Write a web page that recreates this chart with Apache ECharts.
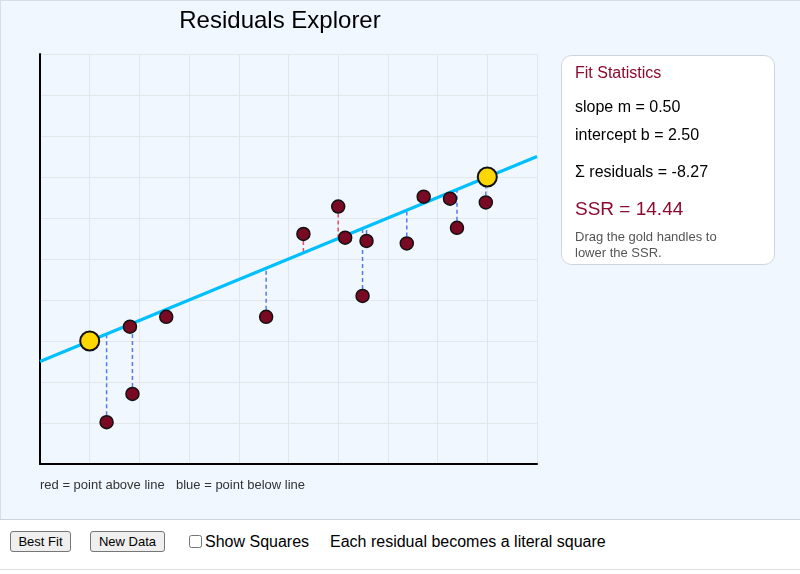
<!DOCTYPE html>
<html>
<head>
<meta charset="utf-8">
<script src="https://cdn.jsdelivr.net/npm/echarts@6/dist/echarts.min.js"></script>
<style>
  body { margin: 0; background: #fff; font-family: "Liberation Sans", Arial, sans-serif; }
  #wrap { position: absolute; left: 0; top: 0; width: 800px; height: 519px; background: #f0f7ff;
          box-shadow: inset 1px 1px 0 #d9dee4; }
  #chart { position: absolute; left: 0; top: 0; width: 800px; height: 519px; }
  #bar { position: absolute; left: 0; top: 519px; width: 800px; height: 51px; background: #fff;
         border-top: 1px solid #cfd3d8; border-bottom: 1px solid #dde0e4; box-sizing: border-box; }
  .btn { position: absolute; top: 11px; height: 21px; padding: 0; font: 13px "Liberation Sans", Arial, sans-serif;
         background: #efefef; border: 1px solid #767676; border-radius: 3px; color: #000; }
  .lbl { position: absolute; top: 13px; font: 16px "Liberation Sans", Arial, sans-serif; color: #000; white-space: nowrap; }
  #chk { position: absolute; left: 189px; top: 15px; margin: 0; width: 13px; height: 13px; }
</style>
</head>
<body>
<div id="wrap"><div id="chart"></div></div>
<div id="bar">
  <button class="btn" style="left:10px;width:61px">Best Fit</button>
  <button class="btn" style="left:90px;width:75px">New Data</button>
  <input type="checkbox" id="chk">
  <span class="lbl" style="left:205px">Show Squares</span>
  <span class="lbl" style="left:330px">Each residual becomes a literal square</span>
</div>
<script>
// current line y = m*x + b
var slope = 0.5;
var intercept = 2.5;
var handleX = [1, 9];

// data points
var pointsX = [1.34, 1.86, 1.81, 2.54, 4.55, 5.30, 6.00, 6.14, 6.57, 6.49, 7.38, 7.72, 8.25, 8.39, 8.97];
var pointsY = [1.02, 1.71, 3.35, 3.59, 3.59, 5.61, 6.28, 5.52, 5.44, 4.10, 5.38, 6.52, 6.47, 5.76, 6.38];

// numbers shown in the panel
var sumResiduals = '-8.27';
var ssr = '14.44';

var points = pointsX.map(function(x, i) { return [x, pointsY[i]]; });
var handles = handleX.map(function(x) { return [x, slope * x + intercept]; });
var lineData = [[0, intercept], [10, slope * 10 + intercept]];

var chart = echarts.init(document.getElementById('chart'));
var font = '"Liberation Sans", Arial, sans-serif';

function label(x, y, text, size, color) {
  return { type: 'text', x: x, y: y, style: { text: text, font: size + 'px ' + font, fill: color, textVerticalAlign: 'middle' } };
}

chart.setOption({
  animation: false,
  grid: { left: 40, top: 54, width: 497, height: 410 },
  xAxis: {
    type: 'value', min: 0, max: 10, interval: 1,
    axisLine: { show: true, lineStyle: { color: '#000', width: 2 } },
    axisTick: { show: false },
    axisLabel: { show: false },
    splitLine: { show: true, lineStyle: { color: '#e4e7ea', width: 1 } }
  },
  yAxis: {
    type: 'value', min: 0, max: 10, interval: 1,
    axisLine: { show: true, lineStyle: { color: '#000', width: 2 } },
    axisTick: { show: false },
    axisLabel: { show: false },
    splitLine: { show: true, lineStyle: { color: '#e4e7ea', width: 1 } }
  },
  series: [
    {
      type: 'custom',
      data: points,
      z: 2,
      renderItem: function(params, api) {
        var x = api.value(0), y = api.value(1);
        var p = api.coord([x, y]);
        var q = api.coord([x, slope * x + intercept]);
        return {
          type: 'line',
          shape: { x1: p[0], y1: p[1], x2: q[0], y2: q[1] },
          style: { stroke: y > slope * x + intercept ? '#e8505b' : '#5b78e8', lineWidth: 1.5, lineDash: [4, 3] }
        };
      }
    },
    {
      type: 'line',
      data: lineData,
      symbol: 'none',
      z: 3,
      lineStyle: { color: '#00bfff', width: 3 }
    },
    {
      type: 'scatter',
      data: points,
      symbolSize: 13,
      z: 4,
      itemStyle: { color: '#7a0a24', borderColor: '#111', borderWidth: 1.5, opacity: 1 }
    },
    {
      type: 'scatter',
      data: handles,
      symbolSize: 19,
      z: 5,
      itemStyle: { color: '#ffd700', borderColor: '#111', borderWidth: 2, opacity: 1 }
    }
  ],
  graphic: [
    { type: 'text', x: 280, y: 21, style: { text: 'Residuals Explorer', font: '24px ' + font, fill: '#000', textAlign: 'center', textVerticalAlign: 'middle' } },
    { type: 'rect', shape: { x: 561.5, y: 55.5, width: 213, height: 209, r: 10 }, style: { fill: '#fff', stroke: '#cfd4da', lineWidth: 1 } },
    label(575, 74, 'Fit Statistics', 16, '#8b0a2e'),
    label(575, 108, 'slope m = ' + slope.toFixed(2), 16, '#000'),
    label(575, 136, 'intercept b = ' + intercept.toFixed(2), 16, '#000'),
    label(575, 173, 'Σ residuals = ' + sumResiduals, 16, '#000'),
    label(575, 210, 'SSR = ' + ssr, 19, '#8b0a2e'),
    label(575, 237, 'Drag the gold handles to', 13, '#555'),
    label(575, 253, 'lower the SSR.', 13, '#555'),
    label(40, 485, 'red = point above line', 13, '#333'),
    label(176, 485, 'blue = point below line', 13, '#333')
  ]
});
</script>
</body>
</html>
